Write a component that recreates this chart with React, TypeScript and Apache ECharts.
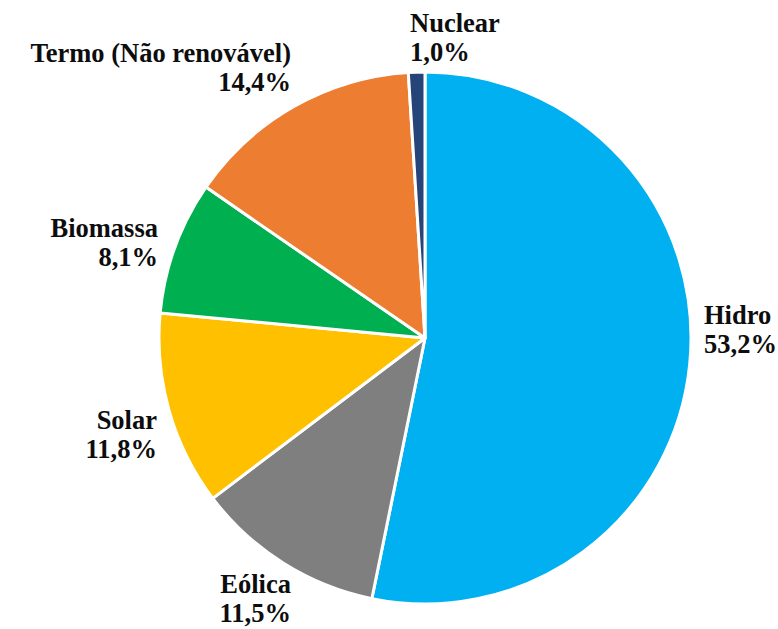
import React, { useEffect, useRef } from 'react';
import * as echarts from 'echarts';

// Data
const categories = ['Hidro', 'Eólica', 'Solar', 'Biomassa', 'Termo (Não renovável)', 'Nuclear'];
const shares = [53.2, 11.5, 11.8, 8.1, 14.4, 1.0];

// Styles
const colors = ['#00B0F0', '#7F7F7F', '#FFC000', '#00B050', '#ED7D31', '#264478'];
// Label placement (anchor x, vertical middle y, text alignment)
const labelAnchorX = [704, 291, 157, 158, 291, 410];
const labelAnchorY = [329, 598, 434, 242, 67, 37];
const labelAlign = ['left', 'right', 'right', 'right', 'right', 'left'];

const fmt = (v: number) => v.toFixed(1).replace('.', ',') + '%';

export default function App() {
  const ref = useRef<HTMLDivElement>(null);
  useEffect(() => {
    if (!ref.current) return;
    const chart = echarts.init(ref.current, null, { renderer: 'svg' });
    chart.setOption({
      animation: false,
      backgroundColor: '#ffffff',
      series: [
        {
          type: 'pie',
          center: [425, 338],
          radius: 266,
          startAngle: 90,
          clockwise: true,
          avoidLabelOverlap: false,
          itemStyle: { borderColor: '#ffffff', borderWidth: 3 },
          label: {
            show: true,
            position: 'outside',
            formatter: (p: any) => `${p.name}\n${fmt(p.value)}`,
            fontFamily: 'Liberation Serif',
            fontWeight: 'bold',
            fontSize: 26.5,
            lineHeight: 29,
            color: '#0d0d0d',
          },
          labelLine: { show: false },
          labelLayout: (params: any) => {
            const i = params.dataIndex;
            return {
              x: labelAnchorX[i],
              y: labelAnchorY[i],
              align: labelAlign[i],
              verticalAlign: 'middle',
            };
          },
          data: categories.map((name, i) => ({
            name,
            value: shares[i],
            itemStyle: { color: colors[i] },
          })),
        },
      ],
    });
    return () => chart.dispose();
  }, []);
  return (
    <div
      ref={ref}
      style={{ position: 'absolute', left: 0, top: 0, width: 778, height: 629 }}
    />
  );
}
